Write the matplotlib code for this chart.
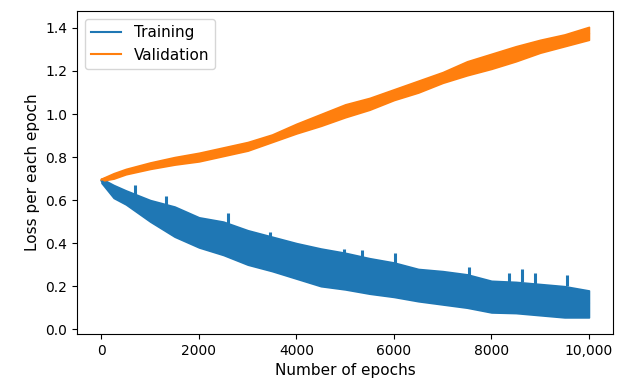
import numpy as np
import matplotlib
matplotlib.use("Agg")
import matplotlib.pyplot as plt

# values
epochs = [0, 250, 500, 1000, 1500, 2000, 2500, 3000, 3500, 4000, 4500,
          5000, 5500, 6000, 6500, 7000, 7500, 8000, 8500, 9000, 9500, 10000]

train_upper = [0.70, 0.67, 0.645, 0.60, 0.57, 0.52, 0.50, 0.46, 0.43, 0.40, 0.375,
               0.355, 0.33, 0.31, 0.28, 0.27, 0.255, 0.225, 0.22, 0.21, 0.20, 0.18]
train_lower = [0.68, 0.61, 0.58, 0.50, 0.43, 0.38, 0.345, 0.30, 0.27, 0.235, 0.20,
               0.185, 0.165, 0.15, 0.13, 0.115, 0.10, 0.078, 0.075, 0.065, 0.055, 0.055]

val_upper = [0.70, 0.725, 0.745, 0.775, 0.80, 0.82, 0.845, 0.87, 0.905, 0.955, 1.00,
             1.045, 1.075, 1.115, 1.155, 1.195, 1.245, 1.28, 1.315, 1.345, 1.37, 1.405]
val_lower = [0.69, 0.70, 0.72, 0.745, 0.765, 0.78, 0.805, 0.83, 0.87, 0.91, 0.945,
             0.985, 1.02, 1.065, 1.10, 1.145, 1.18, 1.21, 1.245, 1.285, 1.315, 1.345]

# upward spikes on the training curve: epoch, top, base
spike_epochs = [680, 1330, 2600, 3450, 4970, 5340, 6020, 7540, 8360, 8620, 8890, 9550]
spike_tops = [0.67, 0.62, 0.54, 0.45, 0.375, 0.37, 0.355, 0.29, 0.26, 0.28, 0.26, 0.25]
spike_bases = [0.62, 0.56, 0.49, 0.42, 0.35, 0.33, 0.31, 0.25, 0.22, 0.22, 0.21, 0.20]

xtick_vals = [0, 2000, 4000, 6000, 8000, 10000]
xtick_labels = ["0", "2000", "4000", "6000", "8000", "10,000"]

plt.rcParams["font.size"] = 11
plt.rcParams["xtick.labelsize"] = 10
plt.rcParams["ytick.labelsize"] = 10

fig, ax = plt.subplots(figsize=(6.22, 3.85), dpi=100)
fig.subplots_adjust(left=0.124, right=0.986, top=0.971, bottom=0.132)

blue = "#1f77b4"
orange = "#ff7f0e"

t_mid = (np.array(train_upper) + np.array(train_lower)) / 2
v_mid = (np.array(val_upper) + np.array(val_lower)) / 2

ax.fill_between(epochs, train_lower, train_upper, color=blue, lw=1.2, edgecolor=blue)
ax.vlines(spike_epochs, spike_bases, spike_tops, color=blue, lw=2.2)
ax.plot(epochs, t_mid, color=blue, lw=1.5, label="Training")

ax.fill_between(epochs, val_lower, val_upper, color=orange, lw=1.2, edgecolor=orange)
ax.plot(epochs, v_mid, color=orange, lw=1.5, label="Validation")

ax.set_xlim(-500, 10500)
ax.set_ylim(-0.023, 1.478)
ax.set_xticks(xtick_vals)
ax.set_xticklabels(xtick_labels)
ax.set_xlabel("Number of epochs")
ax.set_ylabel("Loss per each epoch")
ax.legend(loc="upper left")

fig.savefig("out.png", dpi=100)
